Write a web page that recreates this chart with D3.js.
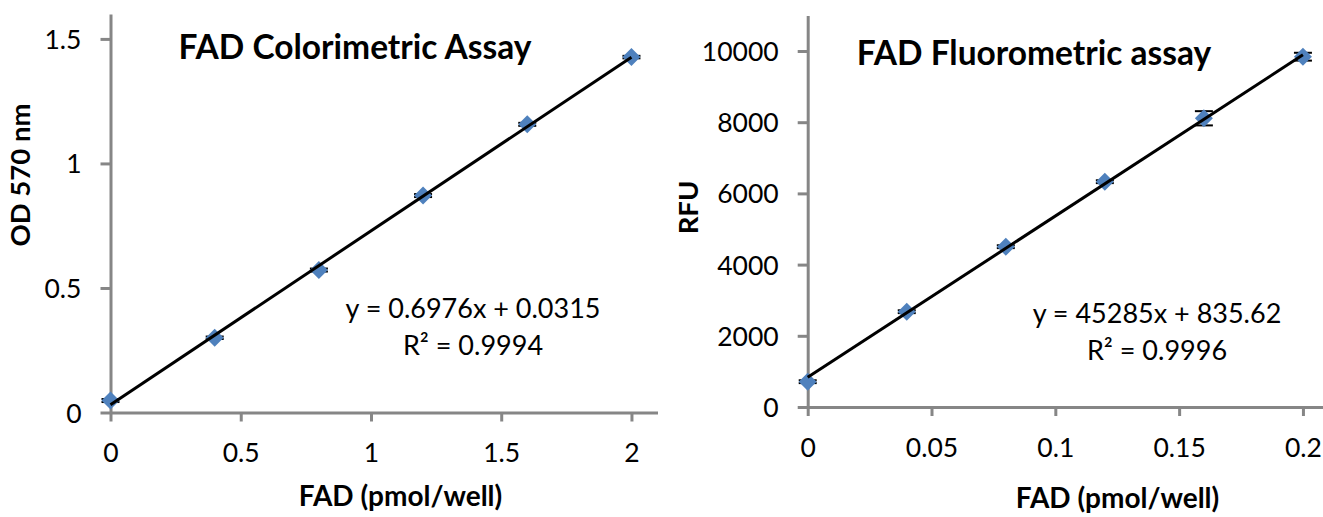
<!DOCTYPE html>
<html>
<head>
<meta charset="utf-8">
<script src="https://cdn.jsdelivr.net/npm/d3@7"></script>
<style>
  html, body { margin: 0; padding: 0; background: #fff; }
  svg { display: block; font-family: Lato, "Open Sans", sans-serif; }
</style>
</head>
<body>
<svg id="chart" width="1323" height="517"></svg>
<script>
// ---- data ----
const colorX = [0, 0.4, 0.8, 1.2, 1.6, 2.0];
const colorY = [0.048, 0.300, 0.572, 0.871, 1.157, 1.427];
const colorErr = [0.006, 0.005, 0.006, 0.006, 0.006, 0.005];
const colorFit = [0.6976, 0.0315];
const colorR2 = "0.9994";
const colorXTicks = [0, 0.5, 1, 1.5, 2];
const colorYTicks = [0, 0.5, 1, 1.5];

const fluoroX = [0, 0.04, 0.08, 0.12, 0.16, 0.2];
const fluoroY = [711, 2677, 4503, 6329, 8110, 9840];
const fluoroErr = [40, 40, 40, 40, 200, 110];
const fluoroFit = [45285, 835.62];
const fluoroR2 = "0.9996";
const fluoroXTicks = [0, 0.05, 0.1, 0.15, 0.2];
const fluoroYTicks = [0, 2000, 4000, 6000, 8000, 10000];

const svg = d3.select("#chart");
const AXIS_COLOR = "#868686";
const MARKER = "#4F81BD";

function panel(cfg) {
  const g = svg.append("g");
  const x = d3.scaleLinear().domain(cfg.xDomain).range(cfg.xRange);
  const y = d3.scaleLinear().domain(cfg.yDomain).range(cfg.yRange);

  // axes
  const xAxis = d3.axisBottom(x).tickValues(cfg.xTicks).tickSize(9).tickSizeOuter(0)
    .tickFormat(cfg.xFmt);
  const yAxis = d3.axisLeft(y).tickValues(cfg.yTicks).tickSize(10).tickSizeOuter(0)
    .tickFormat(cfg.yFmt);

  const gx = g.append("g").attr("transform", `translate(0,${y(0)})`).call(xAxis);
  const gy = g.append("g").attr("transform", `translate(${x(0)},0)`).call(yAxis);
  [gx, gy].forEach(a => {
    a.select(".domain").attr("stroke", AXIS_COLOR).attr("stroke-width", 3);
    a.selectAll(".tick line").attr("stroke", AXIS_COLOR).attr("stroke-width", 3);
    a.selectAll("text").attr("fill", "#000").attr("font-size", 26.5)
      .attr("font-family", "Lato, 'Open Sans', sans-serif");
  });
  gx.selectAll("text").attr("y", 49.5).attr("dy", 0);
  gy.selectAll("text").attr("x", -29).attr("dy", "0.36em");

  // error bars
  const eb = g.append("g").attr("stroke", "#000").attr("stroke-width", 2);
  cfg.xs.forEach((xv, i) => {
    const cx = x(xv), y1 = y(cfg.ys[i] - cfg.err[i]), y2 = y(cfg.ys[i] + cfg.err[i]);
    eb.append("line").attr("x1", cx).attr("x2", cx).attr("y1", y1).attr("y2", y2);
    eb.append("line").attr("x1", cx - 9).attr("x2", cx + 9).attr("y1", y1).attr("y2", y1);
    eb.append("line").attr("x1", cx - 9).attr("x2", cx + 9).attr("y1", y2).attr("y2", y2);
  });

  // markers
  const sym = d3.symbol().type(d3.symbolSquare).size(162);
  g.append("g").selectAll("path").data(cfg.xs).join("path")
    .attr("d", sym)
    .attr("transform", (d, i) => `translate(${x(d)},${y(cfg.ys[i])}) rotate(45)`)
    .attr("fill", MARKER);

  // trendline
  const x0 = d3.min(cfg.xs), x1 = d3.max(cfg.xs);
  g.append("line")
    .attr("x1", x(x0)).attr("y1", y(cfg.fit[0] * x0 + cfg.fit[1]))
    .attr("x2", x(x1)).attr("y2", y(cfg.fit[0] * x1 + cfg.fit[1]))
    .attr("stroke", "#000").attr("stroke-width", 3);

  // title
  g.append("text").attr("x", cfg.title.x).attr("y", cfg.title.y)
    .attr("text-anchor", "middle").attr("font-weight", "bold").attr("font-size", 33.5)
    .text(cfg.title.text);

  // axis titles
  g.append("text").attr("x", cfg.xTitle.x).attr("y", cfg.xTitle.y)
    .attr("text-anchor", "middle").attr("font-weight", "bold").attr("font-size", 28)
    .text(cfg.xTitle.text);
  g.append("text")
    .attr("transform", `translate(${cfg.yTitle.x},${cfg.yTitle.y}) rotate(-90)`)
    .attr("text-anchor", "middle").attr("font-weight", "bold").attr("font-size", 27.5)
    .text(cfg.yTitle.text);

  // equation
  const eq = g.append("text").attr("text-anchor", "middle").attr("font-size", 27);
  eq.append("tspan").attr("x", cfg.eq.x).attr("y", cfg.eq.y1)
    .text(`y = ${cfg.fit[0]}x + ${cfg.fit[1]}`);
  eq.append("tspan").attr("x", cfg.eq.x).attr("y", cfg.eq.y2)
    .text("R² = " + cfg.r2);
}

const fmt = d => String(d);

panel({
  xs: colorX, ys: colorY, err: colorErr, fit: colorFit, r2: colorR2,
  xDomain: [0, 2.1], xRange: [110.5, 657.5],
  yDomain: [0, 1.6], yRange: [412.5, 14],
  xTicks: colorXTicks, yTicks: colorYTicks, xFmt: fmt, yFmt: fmt,
  title: { text: "FAD Colorimetric Assay", x: 355, y: 59 },
  xTitle: { text: "FAD (pmol/well)", x: 400.5, y: 506 },
  yTitle: { text: "OD 570 nm", x: 30, y: 175 },
  eq: { x: 473, y1: 318, y2: 355 }
});

panel({
  xs: fluoroX, ys: fluoroY, err: fluoroErr, fit: fluoroFit, r2: fluoroR2,
  xDomain: [0, 0.21], xRange: [807.7, 1327.7],
  yDomain: [0, 11000], yRange: [407, 15.4],
  xTicks: fluoroXTicks, yTicks: fluoroYTicks, xFmt: fmt, yFmt: fmt,
  title: { text: "FAD Fluorometric assay", x: 1034, y: 65 },
  xTitle: { text: "FAD (pmol/well)", x: 1117.5, y: 508 },
  yTitle: { text: "RFU", x: 698, y: 207.5 },
  eq: { x: 1157, y1: 323, y2: 360 }
});
</script>
</body>
</html>
